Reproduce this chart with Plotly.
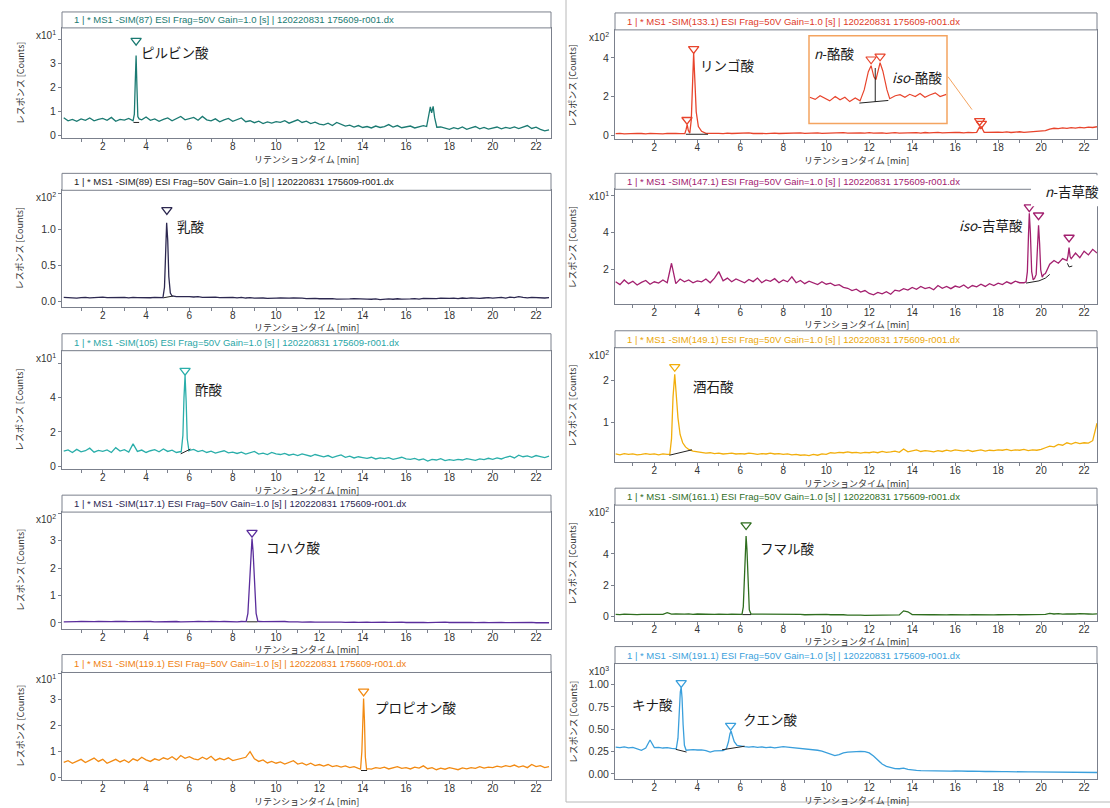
import plotly.graph_objects as go

W, H = 1110, 808

# ---------------- data (display units, i.e. counts / 10^exp) ----------------
TIME = [
    0.2, 0.4, 0.6, 0.8, 1.0, 1.2, 1.4, 1.6, 1.8, 2.0,
    2.2, 2.4, 2.6, 2.8, 3.0, 3.2, 3.4, 3.6, 3.8, 4.0,
    4.2, 4.4, 4.6, 4.8, 5.0, 5.2, 5.4, 5.6, 5.8, 6.0,
    6.2, 6.4, 6.6, 6.8, 7.0, 7.2, 7.4, 7.6, 7.8, 8.0,
    8.2, 8.4, 8.6, 8.8, 9.0, 9.2, 9.4, 9.6, 9.8, 10.0,
    10.2, 10.4, 10.6, 10.8, 11.0, 11.2, 11.4, 11.6, 11.8, 12.0,
    12.2, 12.4, 12.6, 12.8, 13.0, 13.2, 13.4, 13.6, 13.8, 14.0,
    14.2, 14.4, 14.6, 14.8, 15.0, 15.2, 15.4, 15.6, 15.8, 16.0,
    16.2, 16.4, 16.6, 16.8, 17.0, 17.2, 17.4, 17.6, 17.8, 18.0,
    18.2, 18.4, 18.6, 18.8, 19.0, 19.2, 19.4, 19.6, 19.8, 20.0,
    20.2, 20.4, 20.6, 20.8, 21.0, 21.2, 21.4, 21.6, 21.8, 22.0,
    22.2, 22.4, 22.6,
]
X_TICKS = [2, 4, 6, 8, 10, 12, 14, 16, 18, 20, 22]
X_MINOR = [1, 3, 5, 7, 9, 11, 13, 15, 17, 19, 21]

# Pyruvic acid, SIM(87), x10^1
PYRUVIC_BASE = [
    0.75, 0.62, 0.68, 0.60, 0.70, 0.64, 0.74, 0.62, 0.68, 0.72,
    0.64, 0.76, 0.60, 0.68, 0.65, 0.72, 0.62, 0.62, 0.66, 0.78,
    0.64, 0.70, 0.60, 0.68, 0.74, 0.62, 0.70, 0.80, 0.66, 0.72,
    0.76, 0.64, 0.80, 0.66, 0.62, 0.70, 0.58, 0.66, 0.72, 0.60,
    0.66, 0.74, 0.58, 0.62, 0.54, 0.60, 0.50, 0.57, 0.52, 0.58,
    0.55, 0.62, 0.52, 0.58, 0.66, 0.55, 0.60, 0.50, 0.56, 0.48,
    0.45, 0.52, 0.42, 0.55, 0.46, 0.40, 0.44, 0.36, 0.42, 0.34,
    0.38, 0.32, 0.40, 0.34, 0.38, 0.46, 0.36, 0.42, 0.33, 0.38,
    0.40, 0.32, 0.38, 0.42, 0.40, 0.40, 0.40, 0.36, 0.30, 0.26,
    0.33, 0.28, 0.36, 0.26, 0.32, 0.38, 0.28, 0.34, 0.27, 0.31,
    0.36, 0.28, 0.34, 0.30, 0.36, 0.29, 0.34, 0.42, 0.30, 0.35,
    0.26, 0.20, 0.24,
]
PYRUVIC_P1_T = [3.40, 3.46, 3.50, 3.54, 3.58, 3.62, 3.68]
PYRUVIC_P1_Y = [0.62, 0.90, 2.20, 3.35, 2.00, 0.80, 0.70]
PYRUVIC_P2_T = [16.95, 17.05, 17.12, 17.18, 17.25, 17.32, 17.42]
PYRUVIC_P2_Y = [0.38, 0.85, 1.20, 0.95, 1.22, 0.75, 0.35]
PYRUVIC_MARK_T = [3.54]
PYRUVIC_MARK_Y = [3.97]
PYRUVIC_BL_T = [3.42, 3.68]
PYRUVIC_BL_Y = [0.55, 0.55]

# Lactic acid, SIM(89), x10^2
LACTIC_BASE = [
    0.060, 0.055, 0.060, 0.050, 0.058, 0.062, 0.055, 0.060, 0.057, 0.065,
    0.058, 0.060, 0.052, 0.056, 0.060, 0.055, 0.062, 0.058, 0.054, 0.060,
    0.056, 0.060, 0.055, 0.060, 0.060, 0.065, 0.070, 0.072, 0.068, 0.070,
    0.066, 0.070, 0.062, 0.066, 0.060, 0.064, 0.058, 0.062, 0.056, 0.060,
    0.055, 0.060, 0.052, 0.057, 0.050, 0.055, 0.052, 0.048, 0.054, 0.050,
    0.052, 0.046, 0.050, 0.055, 0.048, 0.050, 0.045, 0.050, 0.047, 0.042,
    0.045, 0.040, 0.044, 0.038, 0.042, 0.046, 0.040, 0.043, 0.038, 0.042,
    0.038, 0.035, 0.040, 0.030, 0.036, 0.040, 0.035, 0.042, 0.038, 0.044,
    0.040, 0.045, 0.038, 0.046, 0.042, 0.048, 0.044, 0.050, 0.045, 0.048,
    0.050, 0.044, 0.052, 0.048, 0.055, 0.050, 0.046, 0.052, 0.058, 0.050,
    0.055, 0.060, 0.052, 0.065, 0.058, 0.070, 0.060, 0.055, 0.062, 0.058,
    0.060, 0.052, 0.058,
]
LACTIC_P1_T = [4.78, 4.85, 4.90, 4.95, 5.00, 5.05, 5.12, 5.20]
LACTIC_P1_Y = [0.058, 0.20, 0.70, 1.09, 0.85, 0.35, 0.12, 0.08]
LACTIC_MARK_T = [4.96]
LACTIC_MARK_Y = [1.27]
LACTIC_BL_T = [4.80, 5.25]
LACTIC_BL_Y = [0.055, 0.080]

# Acetic acid, SIM(105), x10^1
ACETIC_BASE = [
    0.88, 0.95, 0.80, 0.98, 0.84, 0.90, 1.05, 0.82, 0.92, 0.86,
    0.95, 0.80, 1.08, 0.88, 0.96, 0.82, 1.30, 0.86, 0.94, 0.80,
    0.90, 0.96, 0.84, 1.00, 0.86, 0.93, 0.80, 0.85, 0.85, 0.92,
    0.98, 0.85, 0.92, 0.80, 0.88, 0.76, 0.84, 0.90, 0.78, 0.82,
    0.74, 0.82, 0.70, 0.78, 0.86, 0.70, 0.76, 0.68, 0.80, 0.72,
    0.68, 0.75, 0.64, 0.70, 0.62, 0.72, 0.66, 0.58, 0.68, 0.60,
    0.54, 0.62, 0.50, 0.58, 0.66, 0.52, 0.58, 0.48, 0.55, 0.50,
    0.45, 0.52, 0.42, 0.48, 0.44, 0.50, 0.40, 0.46, 0.52, 0.42,
    0.40, 0.45, 0.36, 0.42, 0.30, 0.40, 0.36, 0.44, 0.32, 0.38,
    0.34, 0.40, 0.36, 0.44, 0.38, 0.34, 0.42, 0.38, 0.46, 0.40,
    0.48, 0.42, 0.52, 0.58, 0.48, 0.64, 0.55, 0.60, 0.52, 0.62,
    0.56, 0.50, 0.58,
]
ACETIC_P1_T = [5.62, 5.70, 5.75, 5.80, 5.85, 5.90, 5.98]
ACETIC_P1_Y = [0.80, 1.80, 4.00, 5.30, 3.80, 1.60, 0.90]
ACETIC_MARK_T = [5.80]
ACETIC_MARK_Y = [5.58]
ACETIC_BL_T = [5.60, 6.05]
ACETIC_BL_Y = [0.72, 1.00]

# Succinic acid, SIM(117.1), x10^2
SUCCINIC_BASE = [
    0.040, 0.050, 0.035, 0.045, 0.050, 0.040, 0.055, 0.045, 0.050, 0.040,
    0.050, 0.045, 0.055, 0.040, 0.050, 0.045, 0.050, 0.040, 0.055, 0.045,
    0.050, 0.040, 0.045, 0.050, 0.055, 0.045, 0.050, 0.040, 0.050, 0.055,
    0.045, 0.050, 0.040, 0.045, 0.050, 0.040, 0.045, 0.050, 0.040, 0.045,
    0.040, 0.050, 0.045, 0.040, 0.040, 0.050, 0.045, 0.050, 0.040, 0.045,
    0.045, 0.050, 0.035, 0.045, 0.040, 0.030, 0.040, 0.035, 0.030, 0.040,
    0.025, 0.030, 0.020, 0.030, 0.025, 0.020, 0.030, 0.025, 0.020, 0.030,
    0.025, 0.020, 0.030, 0.015, 0.025, 0.020, 0.030, 0.020, 0.025, 0.015,
    0.020, 0.025, 0.015, 0.020, 0.010, 0.020, 0.015, 0.020, 0.025, 0.015,
    0.020, 0.015, 0.010, 0.020, 0.015, 0.010, 0.020, 0.015, 0.010, 0.020,
    0.015, 0.020, 0.010, 0.015, 0.020, 0.025, 0.015, 0.010, 0.020, 0.005,
    0.010, 0.000, 0.005,
]
SUCCINIC_P1_T = [8.62, 8.70, 8.78, 8.84, 8.89, 8.94, 9.00, 9.08, 9.16]
SUCCINIC_P1_Y = [0.045, 0.35, 1.50, 2.70, 3.08, 2.60, 1.40, 0.35, 0.06]
SUCCINIC_MARK_T = [8.89]
SUCCINIC_MARK_Y = [3.29]
SUCCINIC_BL_T = [8.65, 9.15]
SUCCINIC_BL_Y = [0.04, 0.04]

# Propionic acid, SIM(119.1), x10^1
PROPIONIC_BASE = [
    0.58, 0.65, 0.55, 0.62, 0.70, 0.58, 0.66, 0.75, 0.62, 0.70,
    0.55, 0.64, 0.70, 0.60, 0.68, 0.58, 0.72, 0.65, 0.78, 0.68,
    0.62, 0.72, 0.66, 0.76, 0.70, 0.80, 0.68, 0.85, 0.74, 0.80,
    0.72, 0.68, 0.78, 0.70, 0.82, 0.66, 0.74, 0.68, 0.76, 0.65,
    0.70, 0.72, 0.78, 1.00, 0.72, 0.62, 0.68, 0.56, 0.62, 0.55,
    0.60, 0.52, 0.58, 0.65, 0.52, 0.56, 0.48, 0.55, 0.46, 0.50,
    0.44, 0.50, 0.42, 0.46, 0.40, 0.45, 0.38, 0.42, 0.35, 0.33,
    0.34, 0.32, 0.38, 0.35, 0.40, 0.33, 0.37, 0.42, 0.35, 0.38,
    0.33, 0.40, 0.36, 0.45, 0.34, 0.38, 0.30, 0.36, 0.32, 0.38,
    0.34, 0.30, 0.37, 0.33, 0.38, 0.35, 0.42, 0.36, 0.40, 0.38,
    0.44, 0.40, 0.46, 0.42, 0.48, 0.40, 0.45, 0.38, 0.50, 0.42,
    0.46, 0.38, 0.42,
]
PROPIONIC_P1_T = [13.90, 13.96, 14.00, 14.04, 14.08, 14.12, 14.18]
PROPIONIC_P1_Y = [0.32, 1.00, 2.40, 3.05, 2.20, 0.80, 0.30]
PROPIONIC_MARK_T = [14.04]
PROPIONIC_MARK_Y = [3.32]
PROPIONIC_BL_T = [13.92, 14.20]
PROPIONIC_BL_Y = [0.27, 0.27]

# Malic acid, SIM(133.1), x10^2
MALIC_BASE = [
    0.08, 0.10, 0.07, 0.09, 0.08, 0.10, 0.09, 0.07, 0.10, 0.08,
    0.09, 0.07, 0.10, 0.08, 0.09, 0.08, 0.08, 0.08, 0.08, 0.08,
    0.10, 0.09, 0.11, 0.09, 0.10, 0.08, 0.11, 0.09, 0.10, 0.09,
    0.10, 0.12, 0.09, 0.11, 0.10, 0.08, 0.10, 0.11, 0.09, 0.10,
    0.11, 0.09, 0.10, 0.12, 0.10, 0.11, 0.09, 0.12, 0.10, 0.11,
    0.12, 0.10, 0.11, 0.13, 0.11, 0.12, 0.10, 0.12, 0.11, 0.13,
    0.11, 0.13, 0.12, 0.10, 0.12, 0.13, 0.11, 0.12, 0.14, 0.12,
    0.13, 0.11, 0.14, 0.12, 0.13, 0.15, 0.12, 0.14, 0.13, 0.15,
    0.14, 0.12, 0.15, 0.13, 0.15, 0.15, 0.15, 0.16, 0.14, 0.16,
    0.15, 0.17, 0.14, 0.16, 0.18, 0.15, 0.17, 0.16, 0.18, 0.20,
    0.24, 0.32, 0.36, 0.34, 0.38, 0.35, 0.39, 0.37, 0.41, 0.38,
    0.42, 0.40, 0.44,
]
MALIC_P1_T = [3.42, 3.48, 3.53, 3.58, 3.65, 3.72, 3.78, 3.83, 3.88, 3.95, 4.05, 4.20, 4.40]
MALIC_P1_Y = [0.08, 0.30, 0.55, 0.25, 0.10, 0.80, 3.20, 4.25, 3.00, 1.20, 0.45, 0.20, 0.10]
MALIC_P2_T = [17.00, 17.08, 17.13, 17.18, 17.23, 17.28, 17.35]
MALIC_P2_Y = [0.15, 0.30, 0.42, 0.32, 0.45, 0.30, 0.15]
MALIC_MARK_T = [3.52, 3.83, 17.14, 17.22]
MALIC_MARK_Y = [0.80, 4.47, 0.74, 0.60]
MALIC_BL_T = [3.47, 4.50]
MALIC_BL_Y = [0.05, 0.05]

# Inset of malic trace (butyric acids)
INSET_T = [16.31, 16.39, 16.46, 16.53, 16.60, 16.68, 16.75, 16.82, 16.89, 16.97,
           17.04, 17.10, 17.16, 17.20, 17.24, 17.27, 17.30, 17.33, 17.37, 17.43,
           17.47, 17.55, 17.62, 17.69, 17.76, 17.84, 17.91, 17.98, 18.05, 18.13,
           18.20, 18.29]
INSET_Y = [0.150, 0.135, 0.160, 0.140, 0.125, 0.155, 0.132, 0.150, 0.120, 0.145,
           0.125, 0.200, 0.325, 0.366, 0.290, 0.270, 0.340, 0.386, 0.330, 0.200,
           0.140, 0.160, 0.168, 0.150, 0.170, 0.155, 0.175, 0.150, 0.165, 0.180,
           0.155, 0.170]
INSET_MARK_T = [17.20, 17.33]
INSET_MARK_Y = [0.410, 0.430]
INSET_BL_T = [17.03, 17.45]
INSET_BL_Y = [0.110, 0.128]
INSET_DROP_T = [17.26, 17.26]
INSET_DROP_Y = [0.118, 0.350]

# Valeric acids, SIM(147.1), x10^1
VALERIC_BASE = [
    1.35, 1.20, 1.45, 1.25, 1.38, 1.18, 1.32, 1.42, 1.22, 1.35,
    1.28, 1.45, 1.30, 2.35, 1.25, 1.50, 1.35, 1.45, 1.30, 1.40,
    1.35, 1.50, 1.30, 1.55, 1.90, 1.40, 1.55, 1.35, 1.50, 1.42,
    1.30, 1.48, 1.36, 1.55, 1.30, 1.45, 1.38, 1.52, 1.30, 1.45,
    1.35, 1.62, 1.30, 1.42, 1.25, 1.38, 1.30, 1.20, 1.35, 1.22,
    1.28, 1.15, 1.20, 1.05, 1.00, 0.88, 0.95, 0.80, 0.88, 0.72,
    0.65, 0.78, 0.70, 0.82, 0.68, 0.90, 0.85, 0.98, 0.90, 1.05,
    0.95, 1.10, 0.98, 1.05, 0.92, 1.15, 1.00, 1.10, 0.98, 1.12,
    1.05, 1.18, 1.00, 1.15, 1.08, 1.22, 1.10, 1.25, 1.15, 1.28,
    1.20, 1.35, 1.25, 1.38, 1.30, 1.30, 1.30, 1.30, 1.30, 1.30,
    1.80, 2.30, 2.50, 2.35, 2.60, 2.45, 2.70, 2.90, 2.65, 3.00,
    2.80, 3.10, 2.90,
]
VALERIC_P1_T = [19.30, 19.36, 19.41, 19.45, 19.50, 19.56, 19.63, 19.70, 19.77, 19.83,
                19.88, 19.93, 19.98, 20.05, 20.12]
VALERIC_P1_Y = [1.35, 1.90, 3.80, 5.05, 4.00, 1.90, 1.45, 1.55, 1.75, 3.00,
                4.40, 3.40, 2.00, 1.60, 1.75]
VALERIC_P2_T = [21.20, 21.25, 21.30, 21.35, 21.40]
VALERIC_P2_Y = [2.50, 2.75, 3.20, 2.70, 2.60]
VALERIC_MARK_T = [19.45, 19.88, 21.30]
VALERIC_MARK_Y = [5.38, 4.94, 3.74]
VALERIC_BL_T = [19.30, 19.60, 19.90, 20.20, 20.40]
VALERIC_BL_Y = [1.28, 1.32, 1.40, 1.55, 1.75]
VALERIC_BL2_T = [21.22, 21.30, 21.45]
VALERIC_BL2_Y = [2.35, 2.15, 2.20]

# Tartaric acid, SIM(149.1), x10^2
TARTARIC_BASE = [
    0.23, 0.21, 0.24, 0.22, 0.23, 0.21, 0.22, 0.24, 0.22, 0.23,
    0.21, 0.23, 0.22, 0.22, 0.22, 0.22, 0.22, 0.22, 0.30, 0.28,
    0.27, 0.25, 0.26, 0.24, 0.25, 0.23, 0.24, 0.25, 0.23, 0.24,
    0.23, 0.25, 0.24, 0.22, 0.24, 0.23, 0.25, 0.23, 0.24, 0.22,
    0.23, 0.21, 0.22, 0.20, 0.21, 0.19, 0.22, 0.20, 0.23, 0.22,
    0.26, 0.25, 0.27, 0.26, 0.28, 0.26, 0.27, 0.25, 0.27, 0.26,
    0.28, 0.26, 0.29, 0.27, 0.28, 0.30, 0.27, 0.35, 0.28, 0.30,
    0.33, 0.29, 0.31, 0.30, 0.28, 0.31, 0.29, 0.32, 0.30, 0.33,
    0.31, 0.30, 0.32, 0.29, 0.31, 0.33, 0.30, 0.32, 0.31, 0.33,
    0.32, 0.34, 0.31, 0.33, 0.32, 0.34, 0.31, 0.33, 0.32, 0.34,
    0.38, 0.42, 0.40, 0.46, 0.44, 0.50, 0.47, 0.51, 0.48, 0.50,
    0.49, 0.55, 0.97,
]
TARTARIC_P1_T = [2.72, 2.80, 2.87, 2.95, 3.02, 3.10, 3.20, 3.32, 3.45, 3.60, 3.80]
TARTARIC_P1_Y = [0.22, 0.60, 1.60, 2.15, 1.70, 1.10, 0.70, 0.50, 0.40, 0.34, 0.30]
TARTARIC_MARK_T = [2.95]
TARTARIC_MARK_Y = [2.33]
TARTARIC_BL_T = [2.70, 3.75]
TARTARIC_BL_Y = [0.20, 0.33]

# Fumaric acid, SIM(161.1), x10^2
FUMARIC_BASE = [
    0.12, 0.10, 0.13, 0.11, 0.12, 0.10, 0.12, 0.11, 0.13, 0.10,
    0.12, 0.11, 0.22, 0.13, 0.14, 0.12, 0.13, 0.15, 0.12, 0.14,
    0.13, 0.11, 0.14, 0.12, 0.13, 0.11, 0.12, 0.13, 0.12, 0.12,
    0.12, 0.12, 0.14, 0.12, 0.13, 0.11, 0.12, 0.13, 0.10, 0.12,
    0.11, 0.12, 0.10, 0.11, 0.09, 0.10, 0.11, 0.09, 0.10, 0.11,
    0.09, 0.10, 0.08, 0.09, 0.07, 0.08, 0.06, 0.07, 0.05, 0.06,
    0.05, 0.06, 0.07, 0.06, 0.08, 0.07, 0.08, 0.34, 0.28, 0.10,
    0.09, 0.10, 0.08, 0.09, 0.10, 0.08, 0.09, 0.08, 0.10, 0.09,
    0.08, 0.09, 0.08, 0.10, 0.09, 0.08, 0.09, 0.10, 0.08, 0.09,
    0.10, 0.09, 0.08, 0.10, 0.09, 0.10, 0.08, 0.09, 0.10, 0.11,
    0.12, 0.18, 0.14, 0.16, 0.13, 0.15, 0.13, 0.14, 0.16, 0.13,
    0.14, 0.13, 0.15,
]
FUMARIC_P1_T = [6.08, 6.14, 6.19, 6.23, 6.27, 6.31, 6.36, 6.42, 6.50]
FUMARIC_P1_Y = [0.12, 0.60, 2.80, 4.60, 5.15, 4.30, 2.00, 0.40, 0.14]
FUMARIC_MARK_T = [6.27]
FUMARIC_MARK_Y = [5.85]
FUMARIC_BL_T = [6.10, 6.50]
FUMARIC_BL_Y = [0.10, 0.10]

# Quinic / citric acid, SIM(191.1), x10^3
QUINIC_BASE = [
    0.300, 0.295, 0.302, 0.292, 0.298, 0.285, 0.265, 0.290, 0.380, 0.295,
    0.298, 0.290, 0.295, 0.285, 0.280, 0.280, 0.280, 0.270, 0.272, 0.268,
    0.270, 0.262, 0.245, 0.258, 0.262, 0.270, 0.270, 0.270, 0.270, 0.310,
    0.305, 0.300, 0.305, 0.298, 0.302, 0.295, 0.300, 0.292, 0.298, 0.305,
    0.300, 0.295, 0.290, 0.292, 0.285, 0.282, 0.275, 0.265, 0.255, 0.240,
    0.225, 0.205, 0.215, 0.235, 0.245, 0.250, 0.255, 0.252, 0.250, 0.235,
    0.200, 0.150, 0.110, 0.085, 0.070, 0.060, 0.058, 0.065, 0.050, 0.042,
    0.040, 0.038, 0.036, 0.037, 0.035, 0.034, 0.033, 0.034, 0.032, 0.033,
    0.030, 0.032, 0.030, 0.031, 0.028, 0.030, 0.027, 0.029, 0.026, 0.028,
    0.025, 0.026, 0.024, 0.025, 0.023, 0.024, 0.022, 0.023, 0.022, 0.021,
    0.020, 0.021, 0.019, 0.020, 0.018, 0.019, 0.017, 0.018, 0.016, 0.017,
    0.015, 0.014, 0.016,
]
QUINIC_P1_T = [3.02, 3.10, 3.16, 3.21, 3.25, 3.29, 3.34, 3.40, 3.48]
QUINIC_P1_Y = [0.280, 0.400, 0.700, 0.920, 0.970, 0.850, 0.550, 0.320, 0.265]
CITRIC_P1_T = [5.20, 5.35, 5.45, 5.52, 5.57, 5.63, 5.72, 5.85, 6.00]
CITRIC_P1_Y = [0.260, 0.280, 0.360, 0.450, 0.480, 0.430, 0.360, 0.320, 0.310]
QUINIC_MARK_T = [3.25, 5.55]
QUINIC_MARK_Y = [1.02, 0.54]
QUINIC_BL_T = [3.00, 3.50]
QUINIC_BL_Y = [0.275, 0.245]
CITRIC_BL_T = [5.15, 6.20]
CITRIC_BL_Y = [0.270, 0.310]


def merge(base, peaks):
    wins = [(min(t), max(t)) for t, _ in peaks]
    pts = [(t, y) for t, y in zip(TIME, base)
           if not any(lo <= t <= hi for lo, hi in wins)]
    for t, y in peaks:
        pts.extend(zip(t, y))
    pts.sort()
    return [p[0] for p in pts], [p[1] for p in pts]


AX = "#7b808c"
TXT = "#333333"
JP = "Noto Sans CJK JP"
LAT = "Liberation Sans"

PANELS = [
    dict(col=0, top=12, ptop=28, pbot=139, yr=[-0.12, 4.5], yt=[0, 1, 2, 3],
         ytt=["0", "1", "2", "3"], ymin=[4], exp=1, color="#1b7a72", tcolor="#1b7a72", sim="87",
         base=PYRUVIC_BASE, peaks=[(PYRUVIC_P1_T, PYRUVIC_P1_Y), (PYRUVIC_P2_T, PYRUVIC_P2_Y)],
         marks=(PYRUVIC_MARK_T, PYRUVIC_MARK_Y), bls=[(PYRUVIC_BL_T, PYRUVIC_BL_Y)],
         labels=[("ピルビン酸", 3.67, 3.5, "left")]),
    dict(col=0, top=174, ptop=191, pbot=308, yr=[-0.07, 1.54], yt=[0, 0.5, 1.0],
         ytt=["0.0", "0.5", "1.0"], ymin=[1.5], exp=2, color="#2c2850", tcolor="#222222", sim="89",
         base=LACTIC_BASE, peaks=[(LACTIC_P1_T, LACTIC_P1_Y)],
         marks=(LACTIC_MARK_T, LACTIC_MARK_Y), bls=[(LACTIC_BL_T, LACTIC_BL_Y)],
         labels=[("乳酸", 5.33, 1.05, "left")]),
    dict(col=0, top=335, ptop=352, pbot=471, yr=[-0.18, 6.74], yt=[0, 2, 4],
         ytt=["0", "2", "4"], ymin=[6], exp=1, color="#2aaeaa", tcolor="#2aa6a6", sim="105",
         base=ACETIC_BASE, peaks=[(ACETIC_P1_T, ACETIC_P1_Y)],
         marks=(ACETIC_MARK_T, ACETIC_MARK_Y), bls=[(ACETIC_BL_T, ACETIC_BL_Y)],
         labels=[("酢酸", 6.16, 4.5, "left")]),
    dict(col=0, top=497, ptop=514, pbot=631, yr=[-0.21, 4.04], yt=[0, 1, 2, 3],
         ytt=["0", "1", "2", "3"], ymin=[4], exp=2, color="#5a2d9c", tcolor="#2a2450", sim="117.1",
         base=SUCCINIC_BASE, peaks=[(SUCCINIC_P1_T, SUCCINIC_P1_Y)],
         marks=(SUCCINIC_MARK_T, SUCCINIC_MARK_Y), bls=[(SUCCINIC_BL_T, SUCCINIC_BL_Y)],
         labels=[("コハク酸", 9.46, 2.77, "left")]),
    dict(col=0, top=657, ptop=675, pbot=783, yr=[-0.1, 4.05], yt=[0, 1, 2, 3],
         ytt=["0", "1", "2", "3"], ymin=[4], exp=1, color="#f28a12", tcolor="#f07f10", sim="119.1",
         base=PROPIONIC_BASE, peaks=[(PROPIONIC_P1_T, PROPIONIC_P1_Y)],
         marks=(PROPIONIC_MARK_T, PROPIONIC_MARK_Y), bls=[(PROPIONIC_BL_T, PROPIONIC_BL_Y)],
         labels=[("プロピオン酸", 14.47, 2.7, "left")]),
    dict(col=1, top=13, ptop=30, pbot=140, yr=[-0.22, 5.45], yt=[0, 2, 4],
         ytt=["0", "2", "4"], ymin=[], exp=2, color="#e8442c", tcolor="#e03a28", sim="133.1",
         base=MALIC_BASE, peaks=[(MALIC_P1_T, MALIC_P1_Y), (MALIC_P2_T, MALIC_P2_Y)],
         marks=(MALIC_MARK_T, MALIC_MARK_Y), bls=[(MALIC_BL_T, MALIC_BL_Y)],
         labels=[("リンゴ酸", 4.04, 3.64, "left")]),
    dict(col=1, top=174, ptop=190, pbot=305, yr=[0.16, 6.34], yt=[2, 4],
         ytt=["2", "4"], ymin=[6], exp=1, color="#a3206f", tcolor="#a3206f", sim="147.1",
         base=VALERIC_BASE, peaks=[(VALERIC_P1_T, VALERIC_P1_Y), (VALERIC_P2_T, VALERIC_P2_Y)],
         marks=(VALERIC_MARK_T, VALERIC_MARK_Y),
         bls=[(VALERIC_BL_T, VALERIC_BL_Y), (VALERIC_BL2_T, VALERIC_BL2_Y)],
         labels=[("<i>iso</i>-吉草酸", 19.25, 4.4, "right")]),
    dict(col=1, top=332, ptop=349, pbot=464, yr=[0.03, 2.79], yt=[1, 2],
         ytt=["1", "2"], ymin=[], exp=2, color="#f2ae0c", tcolor="#eca80a", sim="149.1",
         base=TARTARIC_BASE, peaks=[(TARTARIC_P1_T, TARTARIC_P1_Y)],
         marks=(TARTARIC_MARK_T, TARTARIC_MARK_Y), bls=[(TARTARIC_BL_T, TARTARIC_BL_Y)],
         labels=[("酒石酸", 3.69, 1.86, "left")]),
    dict(col=1, top=490, ptop=507, pbot=623, yr=[-0.29, 7.13], yt=[0, 2, 4],
         ytt=["0", "2", "4"], ymin=[6], exp=2, color="#2f6e1f", tcolor="#2f6e1f", sim="161.1",
         base=FUMARIC_BASE, peaks=[(FUMARIC_P1_T, FUMARIC_P1_Y)],
         marks=(FUMARIC_MARK_T, FUMARIC_MARK_Y), bls=[(FUMARIC_BL_T, FUMARIC_BL_Y)],
         labels=[("フマル酸", 6.84, 4.38, "left")]),
    dict(col=1, top=649, ptop=666, pbot=782, yr=[-0.058, 1.236], yt=[0, 0.25, 0.5, 0.75, 1.0],
         ytt=["0.00", "0.25", "0.50", "0.75", "1.00"], ymin=[], exp=3, color="#3a9fdc",
         tcolor="#3a9fdc", sim="191.1",
         base=QUINIC_BASE, peaks=[(QUINIC_P1_T, QUINIC_P1_Y), (CITRIC_P1_T, CITRIC_P1_Y)],
         marks=(QUINIC_MARK_T, QUINIC_MARK_Y),
         bls=[(QUINIC_BL_T, QUINIC_BL_Y), (CITRIC_BL_T, CITRIC_BL_Y)],
         labels=[("キナ酸", 0.85, 0.78, "left"), ("クエン酸", 6.02, 0.62, "left")]),
]

fig = go.Figure()
shapes = []
annots = []
layout = {}


def px(x):
    return x / W


def py(y):
    return 1 - y / H


for n, p in enumerate(PANELS, start=1):
    sfx = "" if n == 1 else str(n)
    xl, xr = (62, 551) if p["col"] == 0 else (615, 1097)
    xrange_ = [0.12, 22.69] if p["col"] == 0 else [0.17, 22.6]
    layout["xaxis" + sfx] = dict(
        domain=[px(xl), px(xr)], range=xrange_, anchor="y" + sfx,
        tickvals=X_TICKS, ticks="outside", ticklen=3, tickcolor=AX, tickwidth=1,
        minor=dict(tickvals=X_MINOR, ticks="outside", ticklen=3, tickcolor=AX),
        showline=True, mirror=True, linecolor=AX, linewidth=1,
        showgrid=False, zeroline=False, ticklabelstandoff=-4,
        tickfont=dict(family=LAT, size=10, color=TXT),
    )
    ya = dict(
        domain=[py(p["pbot"]), py(p["ptop"])], range=p["yr"], anchor="x" + sfx,
        tickvals=p["yt"], ticktext=p["ytt"], ticks="outside", ticklen=3,
        tickcolor=AX, showline=True, mirror=True, linecolor=AX, linewidth=1,
        showgrid=False, zeroline=False,
        tickfont=dict(family=LAT, size=10.5, color=TXT),
    )
    if p["ymin"]:
        ya["minor"] = dict(tickvals=p["ymin"], ticks="outside", ticklen=3, tickcolor=AX)
    layout["yaxis" + sfx] = ya
    tx, ty = merge(p["base"], p["peaks"])
    fig.add_trace(go.Scatter(x=tx, y=ty, mode="lines", xaxis="x" + sfx, yaxis="y" + sfx,
                             line=dict(color=p["color"], width=1.3), showlegend=False,
                             hoverinfo="skip"))
    for bt, by in p["bls"]:
        fig.add_trace(go.Scatter(x=bt, y=by, mode="lines", xaxis="x" + sfx, yaxis="y" + sfx,
                                 line=dict(color="#222222", width=1), showlegend=False,
                                 hoverinfo="skip"))
    fig.add_trace(go.Scatter(x=p["marks"][0], y=p["marks"][1], mode="markers",
                             xaxis="x" + sfx, yaxis="y" + sfx,
                             marker=dict(symbol="triangle-down-open", size=9,
                                         color=p["color"], line=dict(width=1.3, color=p["color"])),
                             showlegend=False, hoverinfo="skip"))
    # title bar
    shapes.append(dict(type="rect", xref="paper", yref="paper", x0=px(xl), x1=px(xr),
                       y0=py(p["ptop"]), y1=py(p["top"]), line=dict(color=AX, width=1),
                       fillcolor="white"))
    annots.append(dict(xref="paper", yref="paper", x=px(xl + 10),
                       y=py((p["top"] + p["ptop"]) / 2), xanchor="left", yanchor="middle",
                       showarrow=False,
                       text=f"1 | * MS1 -SIM({p['sim']}) ESI Frag=50V Gain=1.0 [s] | 120220831 175609-r001.dx",
                       font=dict(family=LAT, size=9.5, color=p["tcolor"])))
    # exponent label
    annots.append(dict(xref="paper", yref="paper", x=px(xl - 4), y=py(p["ptop"] + 7),
                       xanchor="right", yanchor="middle", showarrow=False,
                       text=f"x10<sup>{p['exp']}</sup>",
                       font=dict(family=LAT, size=10, color=TXT)))
    # y title
    annots.append(dict(xref="paper", yref="paper", x=px(xl - 42),
                       y=py((p["ptop"] + p["pbot"]) / 2), xanchor="center", yanchor="middle",
                       textangle=-90, showarrow=False, text="レスポンス [Counts]",
                       font=dict(family=JP, size=9, color=TXT)))
    # x title
    annots.append(dict(xref="paper", yref="paper", x=px((xl + xr) / 2),
                       y=py(p["pbot"] + 21), xanchor="center", yanchor="middle",
                       showarrow=False, text="リテンションタイム [min]",
                       font=dict(family=JP, size=9, color=TXT)))
    for text, lx, ly, anc in p["labels"]:
        annots.append(dict(xref="x" + sfx, yref="y" + sfx, x=lx, y=ly, xanchor=anc,
                           yanchor="middle", showarrow=False, text=text,
                           font=dict(family=JP, size=13.5, color="#1a1a1a")))

# inset (butyric acids in malic trace)
INS = (809, 947, 36, 124)
layout["xaxis11"] = dict(domain=[px(INS[0]), px(INS[1])], range=[16.3, 18.3], anchor="y11",
                         visible=False, showgrid=False, zeroline=False)
layout["yaxis11"] = dict(domain=[py(INS[3]), py(INS[2])], range=[-0.03, 0.57], anchor="x11",
                         visible=False, showgrid=False, zeroline=False)
fig.add_trace(go.Scatter(x=INSET_T, y=INSET_Y, mode="lines", xaxis="x11", yaxis="y11",
                         line=dict(color="#e8442c", width=1.2), showlegend=False, hoverinfo="skip"))
fig.add_trace(go.Scatter(x=INSET_BL_T, y=INSET_BL_Y, mode="lines", xaxis="x11", yaxis="y11",
                         line=dict(color="#222222", width=1), showlegend=False, hoverinfo="skip"))
fig.add_trace(go.Scatter(x=INSET_DROP_T, y=INSET_DROP_Y, mode="lines", xaxis="x11", yaxis="y11",
                         line=dict(color="#222222", width=1), showlegend=False, hoverinfo="skip"))
fig.add_trace(go.Scatter(x=INSET_MARK_T, y=INSET_MARK_Y, mode="markers", xaxis="x11", yaxis="y11",
                         marker=dict(symbol="triangle-down-open", size=9, color="#e8442c",
                                     line=dict(width=1.2, color="#e8442c")),
                         showlegend=False, hoverinfo="skip"))
shapes.append(dict(type="rect", xref="paper", yref="paper", x0=px(INS[0]), x1=px(INS[1]),
                   y0=py(INS[3]), y1=py(INS[2]), line=dict(color="#f4a460", width=1.5)))
shapes.append(dict(type="line", xref="paper", yref="paper", x0=px(948), y0=py(77),
                   x1=px(972), y1=py(110), line=dict(color="#f4a460", width=1)))
annots.append(dict(xref="paper", yref="paper", x=px(812), y=py(53), xanchor="left",
                   yanchor="middle", showarrow=False, text="<i>n</i>-酪酸",
                   font=dict(family=JP, size=13.5, color="#1a1a1a")))
annots.append(dict(xref="paper", yref="paper", x=px(890), y=py(77), xanchor="left",
                   yanchor="middle", showarrow=False, text="<i>iso</i>-酪酸",
                   font=dict(family=JP, size=13.5, color="#1a1a1a")))

# n-valeric label box overlapping the panel corner
shapes.append(dict(type="rect", xref="paper", yref="paper", x0=px(1031), x1=px(1110),
                   y0=py(207), y1=py(176), line=dict(width=0), fillcolor="white", layer="above"))
annots.append(dict(xref="paper", yref="paper", x=px(1072), y=py(192), xanchor="center",
                   yanchor="middle", showarrow=False, text="<i>n</i>-吉草酸",
                   font=dict(family=JP, size=13.5, color="#1a1a1a")))

# column frame lines
shapes.append(dict(type="line", xref="paper", yref="paper", x0=px(566), x1=px(566),
                   y0=py(0), y1=py(805), line=dict(color="#b8b8b8", width=1)))
shapes.append(dict(type="line", xref="paper", yref="paper", x0=px(566), x1=px(1110),
                   y0=py(805), y1=py(805), line=dict(color="#b8b8b8", width=1)))

fig.update_layout(
    width=W, height=H, margin=dict(l=0, r=0, t=0, b=0),
    paper_bgcolor="white", plot_bgcolor="white",
    shapes=shapes, annotations=annots, showlegend=False,
    **layout,
)
fig.write_html(
    "out.html",
    config={"displayModeBar": False},
    post_script="document.body.style.margin='0';document.body.style.overflow='hidden';",
)
